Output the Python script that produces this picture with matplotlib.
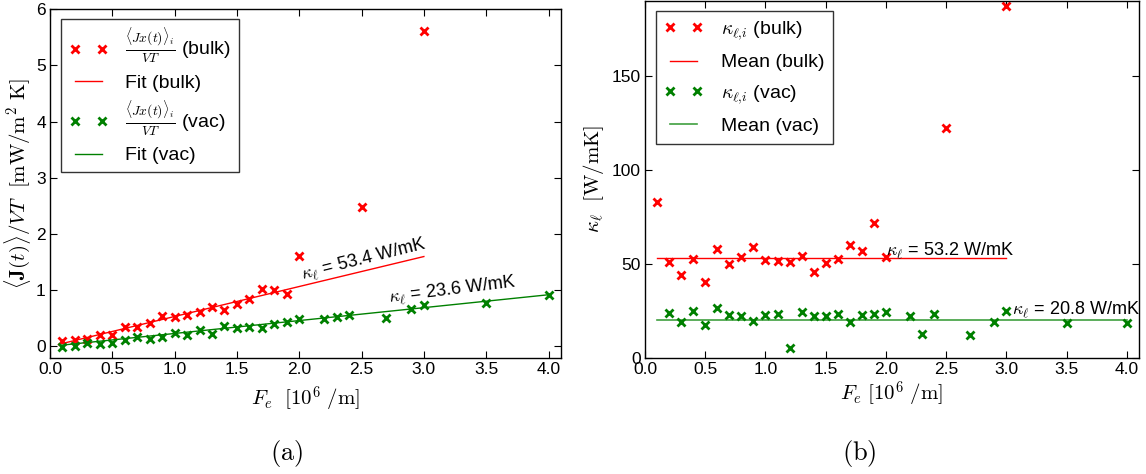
import numpy as np
import matplotlib.pyplot as plt

plt.rcParams['font.family'] = ['Liberation Sans', 'DejaVu Sans']
plt.rcParams['mathtext.fontset'] = 'cm'

# ---- panel (a): current per VT against field ----
fe_bulk = [0.1, 0.2, 0.3, 0.4, 0.5, 0.6, 0.7, 0.8, 0.9, 1.0, 1.1, 1.2, 1.3,
           1.4, 1.5, 1.6, 1.7, 1.8, 1.9, 2.0, 2.5, 3.0]
j_bulk = [0.09, 0.11, 0.13, 0.21, 0.20, 0.34, 0.35, 0.42, 0.54, 0.52, 0.56,
          0.61, 0.70, 0.64, 0.75, 0.84, 1.02, 1.00, 0.94, 1.61, 2.48, 5.62]

fe_vac = [0.1, 0.2, 0.3, 0.4, 0.5, 0.6, 0.7, 0.8, 0.9, 1.0, 1.1, 1.2, 1.3,
          1.4, 1.5, 1.6, 1.7, 1.8, 1.9, 2.0, 2.2, 2.3, 2.4, 2.7, 2.9, 3.0,
          3.5, 4.0]
j_vac = [-0.01, 0.01, 0.07, 0.04, 0.06, 0.11, 0.17, 0.14, 0.16, 0.24, 0.21,
         0.29, 0.23, 0.37, 0.33, 0.35, 0.33, 0.40, 0.43, 0.49, 0.49, 0.52,
         0.56, 0.51, 0.66, 0.73, 0.78, 0.91]

fit_bulk_x = [0.1, 3.0]
fit_bulk_y = [0.053, 1.60]
fit_vac_x = [0.1, 4.0]
fit_vac_y = [0.024, 0.92]

# ---- panel (b): kappa per point ----
fe_kb = [0.1, 0.2, 0.3, 0.4, 0.5, 0.6, 0.7, 0.8, 0.9, 1.0, 1.1, 1.2, 1.3,
         1.4, 1.5, 1.6, 1.7, 1.8, 1.9, 2.0, 2.5, 3.0]
kappa_bulk = [83.0, 51.2, 44.0, 52.8, 40.3, 57.8, 50.0, 53.5, 58.8, 51.8,
              51.6, 50.9, 54.2, 45.9, 50.4, 52.8, 59.9, 56.9, 71.9, 53.4,
              122.4, 187.4]

fe_kv = [0.2, 0.3, 0.4, 0.5, 0.6, 0.7, 0.8, 0.9, 1.0, 1.1, 1.2, 1.3, 1.4,
         1.5, 1.6, 1.7, 1.8, 1.9, 2.0, 2.2, 2.3, 2.4, 2.7, 2.9, 3.0, 3.5, 4.0]
kappa_vac = [24.0, 19.1, 24.6, 17.3, 26.5, 22.6, 22.4, 19.6, 22.6, 23.1, 5.1,
             24.2, 22.4, 22.4, 23.5, 18.9, 22.8, 23.1, 24.4, 22.4, 12.4, 23.0,
             12.0, 18.9, 25.1, 18.4, 18.4]

mean_bulk_x = [0.1, 3.0]
mean_bulk_y = [53.2, 53.2]
mean_vac_x = [0.1, 4.0]
mean_vac_y = [19.9, 19.9]

fig = plt.figure(figsize=(11.46, 4.74), dpi=100)
ax1 = fig.add_axes([0.0436, 0.2454, 0.4459, 0.735])
ax2 = fig.add_axes([0.5628, 0.2454, 0.4311, 0.7526])

mk = dict(linestyle='none', marker='x', markersize=6, markeredgewidth=2)

# (a)
ax1.plot(fe_bulk, j_bulk, color='red', label=r'$\frac{\langle Jx(t)\rangle_i}{VT}$ (bulk)', **mk)
ax1.plot(fit_bulk_x, fit_bulk_y, color='red', lw=1, label='Fit (bulk)')
ax1.plot(fe_vac, j_vac, color='green', label=r'$\frac{\langle Jx(t)\rangle_i}{VT}$ (vac)', **mk)
ax1.plot(fit_vac_x, fit_vac_y, color='green', lw=1, label='Fit (vac)')
ax1.text(2.03, 1.19, r'$\kappa_\ell$ = 53.4 W/mK', fontsize=13, rotation=14,
         rotation_mode='anchor', ha='left', va='baseline')
ax1.text(2.72, 0.78, r'$\kappa_\ell$ = 23.6 W/mK', fontsize=13, rotation=7,
         rotation_mode='anchor', ha='left', va='baseline')
ax1.set_xlim(0, 4.1)
ax1.set_ylim(-0.2, 6)
ax1.set_xticks(np.arange(0, 4.01, 0.5))
ax1.set_yticks(range(0, 7))
ax1.set_xlabel(r'$F_e\ \ [10^6\ /\mathrm{m}]$', fontsize=15, labelpad=6)
ax1.set_ylabel(r'$\langle \mathbf{J}(t)\rangle / VT\ \ [\mathrm{mW/m^2\ K}]$', fontsize=15, labelpad=2)
ax1.legend(loc='upper left', bbox_to_anchor=(0.0215, 0.972), borderaxespad=0,
           numpoints=2, fontsize=14, fancybox=False, edgecolor='#333333',
           framealpha=1, labelspacing=0.4, handlelength=2.0, handletextpad=0.9,
           borderpad=0.4)

# (b)
ax2.plot(fe_kb, kappa_bulk, color='red', label=r'$\kappa_{\ell{,}i}$ (bulk)', **mk)
ax2.plot(mean_bulk_x, mean_bulk_y, color='red', lw=1, label='Mean (bulk)')
ax2.plot(fe_kv, kappa_vac, color='green', label=r'$\kappa_{\ell{,}i}$ (vac)', **mk)
ax2.plot(mean_vac_x, mean_vac_y, color='green', lw=1.2, alpha=0.75, label='Mean (vac)')
ax2.text(2.0, 54.5, r'$\kappa_\ell$ = 53.2 W/mK', fontsize=13, ha='left', va='baseline')
ax2.text(3.05, 23.0, r'$\kappa_\ell$ = 20.8 W/mK', fontsize=13, ha='left', va='baseline')
ax2.set_xlim(0, 4.1)
ax2.set_ylim(0, 190)
ax2.set_xticks(np.arange(0, 4.01, 0.5))
ax2.set_yticks([0, 50, 100, 150])
ax2.set_xlabel(r'$F_e\ [10^6\ /\mathrm{m}]$', fontsize=15, labelpad=2)
ax2.set_ylabel(r'$\kappa_\ell\ \ [\mathrm{W/mK}]$', fontsize=15, labelpad=4)
ax2.legend(loc='upper left', bbox_to_anchor=(0.0217, 0.973), borderaxespad=0,
           numpoints=2, fontsize=14, fancybox=False, edgecolor='#333333',
           framealpha=1, labelspacing=0.6, handlelength=2.0, handletextpad=0.9,
           borderpad=0.45)

for ax in (ax1, ax2):
    ax.tick_params(direction='in', top=True, right=True, length=5, width=0.8,
                   labelsize=12.5, pad=3)
    for s in ax.spines.values():
        s.set_linewidth(1)
    ax.xaxis.set_major_formatter(plt.FormatStrFormatter('%.1f'))

fig.text(0.25, 0.044, r'$\mathrm{(a)}$', fontsize=19, ha='center', va='center')
fig.text(0.75, 0.044, r'$\mathrm{(b)}$', fontsize=19, ha='center', va='center')

fig.savefig('out.png', dpi=100)
